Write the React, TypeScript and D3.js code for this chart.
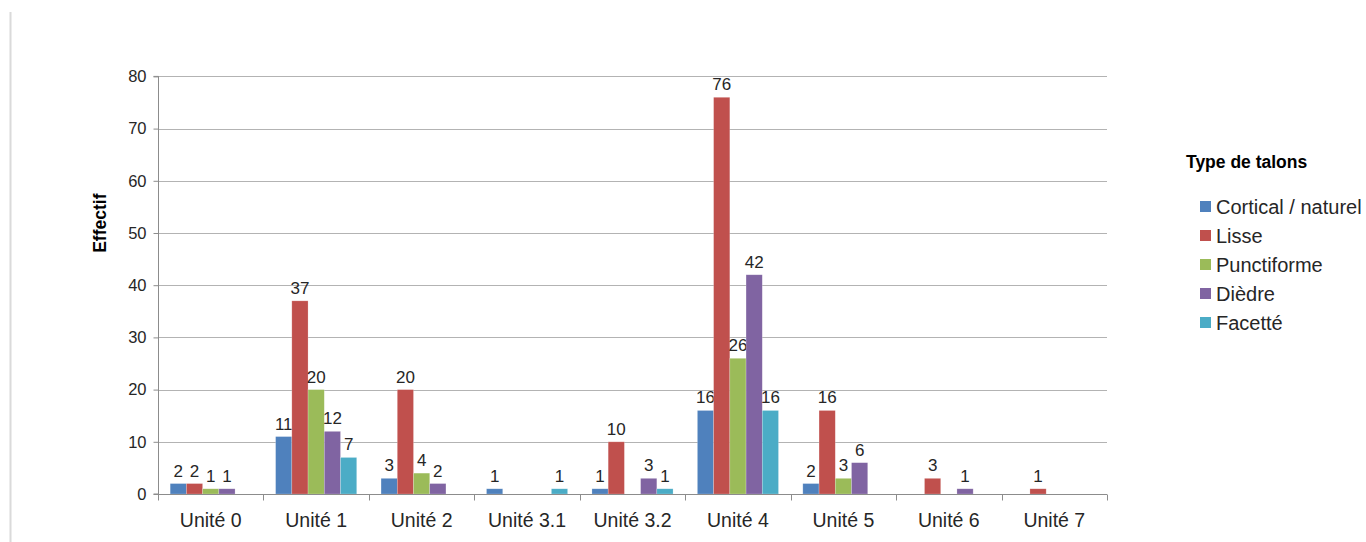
import { useEffect, useRef } from "react";
import * as d3 from "d3";

const categories = ["Unité 0", "Unité 1", "Unité 2", "Unité 3.1", "Unité 3.2", "Unité 4", "Unité 5", "Unité 6", "Unité 7"];
const seriesNames = ["Cortical / naturel", "Lisse", "Punctiforme", "Dièdre", "Facetté"];
const seriesColors = ["#4F81BD", "#C0504D", "#9BBB59", "#8064A2", "#4BACC6"];
const cortical = [2, 11, 3, 1, 1, 16, 2, 0, 0];
const lisse = [2, 37, 20, 0, 10, 76, 16, 3, 1];
const punctiforme = [1, 20, 4, 0, 0, 26, 3, 0, 0];
const diedre = [1, 12, 2, 0, 3, 42, 6, 1, 0];
const facette = [0, 7, 0, 1, 1, 16, 0, 0, 0];
const yTicks = [0, 10, 20, 30, 40, 50, 60, 70, 80];

const font = "'Liberation Sans', Arial, sans-serif";

export default function App() {
  const ref = useRef<SVGSVGElement>(null);

  useEffect(() => {
    if (!ref.current) return;
    document.body.style.margin = "0";
    const values = [cortical, lisse, punctiforme, diedre, facette];

    const svg = d3.select(ref.current);
    svg.selectAll("*").remove();

    const left = 158, right = 1107, top = 76.4, bottom = 494;

    const x0 = d3.scaleBand<string>().domain(categories).range([left, right]);
    const x1 = d3
      .scaleBand<string>()
      .domain(seriesNames)
      .range([0, x0.bandwidth()])
      .paddingInner(0)
      .paddingOuter(0.75);
    const y = d3.scaleLinear().domain([0, 80]).range([bottom, top]);

    // left frame line
    svg.append("line")
      .attr("x1", 10.5).attr("x2", 10.5).attr("y1", 12).attr("y2", 542)
      .attr("stroke", "#dadada").attr("stroke-width", 2);

    // gridlines
    svg.append("g")
      .selectAll("line")
      .data(yTicks.filter((t) => t > 0))
      .enter()
      .append("line")
      .attr("x1", left).attr("x2", right)
      .attr("y1", (d) => Math.round(y(d)) + 0.5).attr("y2", (d) => Math.round(y(d)) + 0.5)
      .attr("stroke", "#b3b3b3");

    // y axis
    const yAxis = svg.append("g").attr("transform", `translate(${left + 0.5},0)`)
      .call(d3.axisLeft(y).tickValues(yTicks).tickSize(5).tickPadding(7));
    yAxis.select(".domain").attr("stroke", "#8c8c8c").attr("d", `M-5,${top}H0V${bottom}H-5`);
    yAxis.selectAll(".tick line").attr("stroke", "#8c8c8c");
    yAxis.selectAll("text").attr("font-family", font).attr("font-size", 16.5).attr("fill", "#262626");

    // bars
    values.forEach((vals, si) => {
      svg.append("g")
        .selectAll("rect")
        .data(vals.map((v, ci) => ({ v, c: categories[ci] })))
        .enter()
        .filter((d) => d.v > 0)
        .append("rect")
        .attr("x", (d) => (x0(d.c) ?? 0) + (x1(seriesNames[si]) ?? 0))
        .attr("width", x1.bandwidth())
        .attr("y", (d) => y(d.v))
        .attr("height", (d) => bottom - y(d.v))
        .attr("fill", seriesColors[si])
        .attr("stroke", "#ffffff")
        .attr("stroke-opacity", 0.35)
        .attr("stroke-width", 0.6);

      svg.append("g")
        .selectAll("text")
        .data(vals.map((v, ci) => ({ v, c: categories[ci] })))
        .enter()
        .filter((d) => d.v > 0)
        .append("text")
        .attr("x", (d) => (x0(d.c) ?? 0) + (x1(seriesNames[si]) ?? 0) + x1.bandwidth() / 2)
        .attr("y", (d) => y(d.v) - 7)
        .attr("text-anchor", "middle")
        .attr("font-family", font)
        .attr("font-size", 17)
        .attr("fill", "#262626")
        .text((d) => d.v);
    });

    // x axis
    const xAxis = svg.append("g").attr("transform", `translate(0,${bottom + 0.5})`);
    xAxis.append("line").attr("x1", left).attr("x2", right).attr("stroke", "#8c8c8c");
    xAxis.selectAll("line.tk")
      .data(d3.range(categories.length + 1))
      .enter()
      .append("line")
      .attr("class", "tk")
      .attr("x1", (i) => Math.round(left + i * x0.step()) + 0.5)
      .attr("x2", (i) => Math.round(left + i * x0.step()) + 0.5)
      .attr("y1", 0).attr("y2", 6)
      .attr("stroke", "#8c8c8c");
    xAxis.selectAll("text")
      .data(categories)
      .enter()
      .append("text")
      .attr("x", (d) => (x0(d) ?? 0) + x0.bandwidth() / 2)
      .attr("y", 32)
      .attr("text-anchor", "middle")
      .attr("font-family", font)
      .attr("font-size", 19.5)
      .attr("fill", "#262626")
      .text((d) => d);

    // y axis title
    svg.append("text")
      .attr("transform", `translate(106,${(top + bottom) / 2 - 62}) rotate(-90)`)
      .attr("text-anchor", "middle")
      .attr("font-family", font)
      .attr("font-weight", "bold")
      .attr("font-size", 17.5)
      .attr("fill", "#000")
      .text("Effectif");

    // legend
    const legend = svg.append("g");
    legend.append("text")
      .attr("x", 1186).attr("y", 168)
      .attr("font-family", font)
      .attr("font-weight", "bold")
      .attr("font-size", 17.5)
      .attr("fill", "#000")
      .text("Type de talons");
    const items = legend.selectAll("g.item")
      .data(seriesNames)
      .enter()
      .append("g")
      .attr("class", "item")
      .attr("transform", (_, i) => `translate(1200,${201 + i * 29})`);
    items.append("rect").attr("width", 11).attr("height", 11).attr("fill", (_, i) => seriesColors[i]);
    items.append("text")
      .attr("x", 16).attr("y", 12.5)
      .attr("font-family", font)
      .attr("font-size", 20)
      .attr("fill", "#262626")
      .text((d) => d);
  }, []);

  return <svg ref={ref} width={1366} height={542} style={{ display: "block" }} />;
}
